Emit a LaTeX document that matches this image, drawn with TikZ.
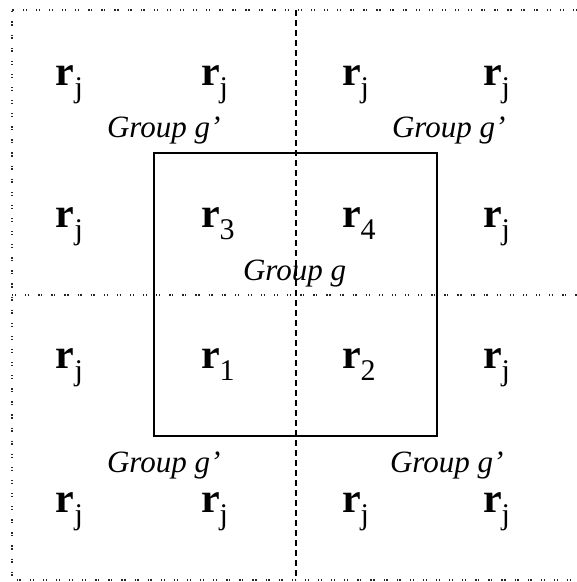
\documentclass[tikz,border=0pt]{standalone}
\usepackage{fontspec}
\setmainfont{Liberation Serif}
\newcommand{\rsub}[1]{{\fontsize{42}{42}\selectfont\bfseries r}{\fontsize{30}{30}\selectfont\raisebox{-12pt}{#1}}}
\newcommand{\grp}[1]{{\fontsize{31}{31}\selectfont\itshape #1}}
\begin{document}
\begin{tikzpicture}[x=1pt,y=-1pt,
  lbl/.style={anchor=base west,inner sep=0pt,outer sep=0pt},
  dotline/.style={line width=1.4pt,black!85,dash pattern=on 1.3pt off 1.5pt on 1.3pt off 9pt},
  dashline/.style={line width=1.2pt,black,dash pattern=on 6pt off 4pt},
  boxline/.style={line width=1.2pt,black}]
\useasboundingbox (0,0) rectangle (577,582);
% coordinates
\coordinate (tl) at (12,10);
\coordinate (tr) at (577,10);
\coordinate (bl) at (12,580);
\coordinate (br) at (577,580);
\coordinate (vt) at (296,10);
\coordinate (vb) at (296,580);
\coordinate (hl) at (12,295);
\coordinate (hr) at (577,295);
\coordinate (sq1) at (154,153);
\coordinate (sq2) at (437,436);
% outer dotted frame (no right edge)
\draw[dotline] (tr) -- (tl) -- (bl) -- (br);
\draw[dotline] (hl) -- (hr);
\draw[dashline] (vt) -- (vb);
\draw[boxline] (sq1) rectangle (sq2);
% row 1
\node[lbl] (a1) at (56,85) {\rsub{j}};
\node[lbl] (a2) at (201,85) {\rsub{j}};
\node[lbl] (a3) at (342,85) {\rsub{j}};
\node[lbl] (a4) at (483,85) {\rsub{j}};
% row 2
\node[lbl] (b1) at (56,227) {\rsub{j}};
\node[lbl] (b2) at (201,227) {\rsub{3}};
\node[lbl] (b3) at (342,227) {\rsub{4}};
\node[lbl] (b4) at (483,227) {\rsub{j}};
% row 3
\node[lbl] (c1) at (56,368) {\rsub{j}};
\node[lbl] (c2) at (201,368) {\rsub{1}};
\node[lbl] (c3) at (342,368) {\rsub{2}};
\node[lbl] (c4) at (483,368) {\rsub{j}};
% row 4
\node[lbl] (d1) at (56,512) {\rsub{j}};
\node[lbl] (d2) at (201,512) {\rsub{j}};
\node[lbl] (d3) at (342,512) {\rsub{j}};
\node[lbl] (d4) at (483,512) {\rsub{j}};
% group labels
\node[lbl] (g1) at (107,137) {\grp{Group g'}};
\node[lbl] (g2) at (392,137) {\grp{Group g'}};
\node[lbl] (g3) at (107,472) {\grp{Group g'}};
\node[lbl] (g4) at (390,472) {\grp{Group g'}};
\node[lbl] (g0) at (243,280) {\grp{Group g}};
\end{tikzpicture}
\end{document}
